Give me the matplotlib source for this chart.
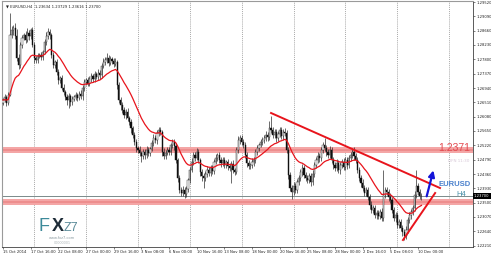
import matplotlib
matplotlib.use('Agg')
import matplotlib.pyplot as plt
import pandas as pd
import numpy as np

# ---------------- data (prices in 1e-4 units) ----------------
first_open = 12650
close_pips = [
    12658, 12667, 12649, 12673, 12853, 12868, 12874, 12850, 12784, 12763,
    12823, 12844, 12853, 12838, 12859, 12850, 12868, 12823, 12784, 12778,
    12790, 12793, 12787, 12802, 12832, 12850, 12862, 12853, 12793, 12763,
    12772, 12742, 12718, 12724, 12694, 12682, 12667, 12658, 12670, 12652,
    12661, 12667, 12673, 12664, 12676, 12670, 12694, 12712, 12718, 12706,
    12721, 12730, 12721, 12736, 12727, 12739, 12733, 12760, 12772, 12778,
    12784, 12769, 12781, 12775, 12766, 12772, 12703, 12658, 12643, 12628,
    12613, 12622, 12604, 12592, 12574, 12553, 12532, 12514, 12508, 12499,
    12490, 12502, 12493, 12508, 12499, 12511, 12529, 12544, 12538, 12559,
    12568, 12562, 12502, 12490, 12499, 12508, 12502, 12523, 12532, 12520,
    12478, 12424, 12388, 12379, 12388, 12376, 12391, 12418, 12448, 12472,
    12493, 12484, 12502, 12478, 12442, 12430, 12424, 12436, 12448, 12439,
    12454, 12445, 12472, 12484, 12493, 12478, 12469, 12478, 12463, 12472,
    12460, 12454, 12466, 12448, 12442, 12508, 12538, 12544, 12532, 12523,
    12493, 12469, 12460, 12463, 12472, 12478, 12502, 12514, 12523, 12532,
    12538, 12544, 12553, 12547, 12574, 12568, 12553, 12562, 12544, 12556,
    12568, 12550, 12562, 12559, 12508, 12433, 12394, 12382, 12400, 12388,
    12412, 12424, 12442, 12454, 12433, 12424, 12418, 12430, 12412, 12436,
    12463, 12478, 12490, 12484, 12508, 12523, 12514, 12502, 12493, 12508,
    12478, 12463, 12454, 12469, 12448, 12463, 12472, 12457, 12478, 12463,
    12484, 12493, 12502, 12490, 12478, 12448, 12424, 12409, 12394, 12379,
    12388, 12367, 12343, 12328, 12334, 12313, 12319, 12310, 12322, 12304,
    12373, 12388, 12382, 12367, 12358, 12328, 12304, 12313, 12283, 12292,
    12274, 12262, 12250, 12268, 12298, 12313, 12322, 12334, 12373, 12400,
    12382, 12370, 12370,
]
upper_wick = [
    6, 8, 5, 10, 66, 12, 9, 15, 20, 12,
    10, 8, 6, 12, 16, 9, 6, 8, 10, 7,
    8, 6, 10, 7, 9, 12, 12, 8, 6, 10,
    7, 10, 8, 6, 9, 12, 7, 8, 10, 6,
    8, 6, 10, 7, 9, 12, 8, 10, 6, 9,
    8, 10, 7, 9, 6, 11, 8, 10, 12, 9,
    15, 8, 10, 7, 9, 12, 6, 8, 10, 9,
    10, 8, 12, 7, 9, 6, 10, 8, 7, 12,
    6, 10, 8, 12, 9, 7, 10, 12, 8, 9,
    10, 8, 7, 12, 9, 10, 8, 7, 10, 9,
    8, 6, 10, 9, 12, 8, 10, 7, 9, 12,
    9, 10, 12, 8, 7, 10, 9, 8, 12, 10,
    8, 10, 9, 12, 7, 10, 9, 8, 10, 7,
    10, 8, 9, 12, 7, 10, 12, 9, 8, 10,
    9, 8, 10, 7, 12, 9, 8, 10, 7, 9,
    10, 9, 12, 8, 20, 36, 10, 9, 8, 10,
    9, 10, 8, 12, 10, 9, 8, 10, 12, 9,
    8, 10, 9, 12, 8, 10, 9, 8, 10, 12,
    10, 9, 12, 8, 10, 9, 20, 10, 8, 12,
    9, 10, 8, 12, 9, 10, 8, 12, 10, 9,
    10, 9, 12, 16, 8, 10, 9, 8, 12, 10,
    8, 10, 9, 12, 8, 10, 9, 8, 10, 12,
    75, 10, 9, 8, 12, 10, 9, 8, 10, 9,
    9, 8, 10, 12, 9, 10, 8, 9, 12, 48,
    10, 9, 8,
]
lower_wick = [
    8, 5, 10, 6, 4, 10, 14, 8, 10, 12,
    8, 10, 6, 8, 7, 12, 9, 6, 14, 10,
    9, 7, 8, 10, 6, 8, 9, 12, 10, 8,
    10, 8, 12, 9, 7, 10, 8, 14, 25, 12,
    9, 7, 10, 8, 6, 9, 12, 8, 10, 7,
    6, 9, 8, 10, 7, 8, 12, 9, 7, 10,
    8, 10, 7, 9, 8, 6, 12, 10, 14, 8,
    9, 12, 8, 10, 14, 9, 8, 11, 10, 9,
    18, 8, 12, 10, 8, 9, 7, 10, 8, 12,
    8, 9, 12, 10, 8, 7, 9, 10, 8, 11,
    10, 12, 9, 8, 10, 12, 9, 8, 10, 7,
    8, 10, 7, 9, 12, 14, 30, 10, 8, 9,
    9, 8, 10, 7, 9, 8, 12, 10, 9, 8,
    12, 10, 45, 9, 8, 7, 10, 12, 9, 8,
    10, 12, 8, 9, 10, 12, 9, 8, 10, 7,
    8, 10, 9, 12, 8, 9, 10, 8, 12, 9,
    10, 9, 12, 8, 10, 12, 9, 20, 10, 8,
    9, 8, 10, 12, 9, 8, 10, 9, 12, 8,
    8, 10, 9, 12, 8, 10, 9, 11, 10, 8,
    10, 12, 9, 8, 10, 12, 9, 8, 10, 12,
    9, 8, 10, 12, 9, 10, 8, 12, 10, 9,
    10, 9, 12, 8, 10, 9, 12, 10, 8, 9,
    8, 10, 9, 12, 8, 10, 9, 12, 10, 8,
    10, 12, 12, 9, 8, 10, 12, 9, 8, 10,
    9, 10, 12,
]

xtick_bars = [0, 16, 32, 48, 64, 80, 96, 112, 128, 144, 160, 176, 192, 208, 224, 240]
xtick_labels = ["15 Oct 2014", "17 Oct 16:00", "22 Oct 08:00", "27 Oct 00:00",
                "29 Oct 16:00", "3 Nov 08:00", "6 Nov 00:00", "10 Nov 16:00",
                "13 Nov 08:00", "18 Nov 00:00", "20 Nov 16:00", "25 Nov 08:00",
                "28 Nov 00:00", "2 Dec 16:00", "5 Dec 08:00", "10 Dec 00:00"]
ytick_pips = [12952, 12909, 12866, 12823, 12780, 12737, 12694, 12651, 12608,
              12565, 12522, 12479, 12436, 12393, 12350, 12307, 12264, 12221]
grid_bars = [18, 48, 78, 108, 138, 168, 198, 228, 258]

resist_band = (12499, 12517)
support_band = (12343, 12361)
current_price = 12370
down_trend = ((155, 12619), (252.7, 12394))
up_trend = ((231.3, 12238), (249.9, 12379))
arrow_pts = ((244.6, 12361), (249.3, 12455))

# ---------------- build ----------------
close = np.array(close_pips) / 1e4
opens = np.concatenate([[first_open / 1e4], close[:-1]])
high = np.maximum(opens, close) + np.array(upper_wick) / 1e4
low = np.minimum(opens, close) - np.array(lower_wick) / 1e4
idx = np.arange(len(close))
ma = pd.Series(close).ewm(span=21, adjust=False).mean()

W, H = 491, 257
fig = plt.figure(figsize=(W / 100, H / 100), dpi=100)
fig.patch.set_facecolor('white')
ax = fig.add_axes([2 / W, (H - 247) / H, 471 / W, 246 / H])
ax.set_xlim(-0.6, 271.8)
ax.set_ylim(1.2217, 1.2955)

for gb in grid_bars:
    ax.axvline(gb, color='#8a8a8a', lw=0.5, ls=(0, (1.5, 1.5)), zorder=0)

# bands
for lo, hi in (resist_band, support_band):
    ax.axhspan(lo / 1e4, hi / 1e4, color='#f4a6a6', lw=0, zorder=1)
    ax.axhline((lo + hi) / 2e4, color='#ec8a8a', lw=1.2, zorder=1)
ax.axhline(current_price / 1e4, color='#7a8a8a', lw=0.7, zorder=2)

# candles
ax.vlines(idx, low, high, color='#303030', lw=0.5, zorder=3)
bull = close >= opens
bh = np.maximum(np.abs(close - opens), 0.00008)
ax.bar(idx[bull], bh[bull], bottom=opens[bull], width=0.7, color='white',
       edgecolor='#202020', lw=0.3, zorder=4)
ax.bar(idx[~bull], bh[~bull], bottom=close[~bull], width=0.7, color='#101010',
       edgecolor='#101010', lw=0.3, zorder=4)

ax.plot(idx, ma, color='#e8141c', lw=0.9, zorder=5)

# trend lines and arrow
(x1, y1), (x2, y2) = down_trend
ax.plot([x1, x2], [y1 / 1e4, y2 / 1e4], color='#e8141c', lw=1.4, zorder=6)
(x1, y1), (x2, y2) = up_trend
ax.plot([x1, x2], [y1 / 1e4, y2 / 1e4], color='#e8141c', lw=1.4, zorder=6)
(x1, y1), (x2, y2) = arrow_pts
ax.annotate('', xy=(x2, y2 / 1e4), xytext=(x1, y1 / 1e4),
            arrowprops=dict(arrowstyle='-|>', color='#1414d8', lw=1.6,
                            mutation_scale=9), zorder=7)

# axes styling
for s in ('top', 'left'):
    ax.spines[s].set_color('#9a9a9a')
    ax.spines[s].set_linewidth(0.8)
for s in ('bottom', 'right'):
    ax.spines[s].set_color('#404040')
    ax.spines[s].set_linewidth(0.6)
ax.yaxis.tick_right()
ax.set_yticks([p / 1e4 for p in ytick_pips])
ax.set_yticklabels([f"{p / 1e4:.5f}" for p in ytick_pips])
ax.set_xticks(xtick_bars)
ax.set_xticklabels(xtick_labels, ha='left')
ax.tick_params(axis='both', labelsize=2.7, length=1.5, width=0.4, pad=1,
               colors='#202020')

# texts
ax.text(0.008, 0.985, "\u25bc EURUSD,H4  1.23634 1.23729 1.23616 1.23700",
        transform=ax.transAxes, fontsize=2.7, va='top', ha='left', color='#202020')
fig.text(470 / W, 1 - 148 / H, "1.2371", fontsize=7.5, color='#e24a50',
         ha='right', va='center', family='Liberation Sans')
fig.text(469 / W, 1 - 161 / H, "DFN 11:30", fontsize=3, color='#d8c8d8',
         ha='right', va='center')
fig.text(455 / W, 1 - 184 / H, "EURUSD", fontsize=5.5, color='#4a80cc',
         ha='center', va='center', family='Liberation Sans', weight='bold')
fig.text(461 / W, 1 - 194 / H, "H4", fontsize=5.5, color='#4a90a8',
         ha='center', va='center', family='Liberation Sans')
fig.text(474 / W, 1 - 196 / H, "1.23700", fontsize=2.7, color='white',
         ha='left', va='center',
         bbox=dict(boxstyle='square,pad=0.3', fc='black', ec='black', lw=0))

# logo (three letter groups placed side by side)
fig.text(39 / W, 1 - 231 / H, "F", fontsize=13, color='#3d8a9a',
         ha='left', va='baseline', family='Liberation Sans')
fig.text(51.5 / W, 1 - 231 / H, "X", fontsize=13, color='#1e2c38',
         ha='left', va='baseline', family='Liberation Sans', weight='bold')
fig.text(64 / W, 1 - 231 / H, "Z7", fontsize=9, color='#5a8a98',
         ha='left', va='baseline', family='Liberation Sans')
fig.text(62 / W, 1 - 238 / H, "www.fxz7.com", fontsize=2.6, color='#8a9aa0',
         ha='center', va='center')
fig.text(62 / W, 1 - 243 / H, "00000001", fontsize=2.4, color='#b0b8bb',
         ha='center', va='center')

fig.savefig('out.png', dpi=100, facecolor='white')
